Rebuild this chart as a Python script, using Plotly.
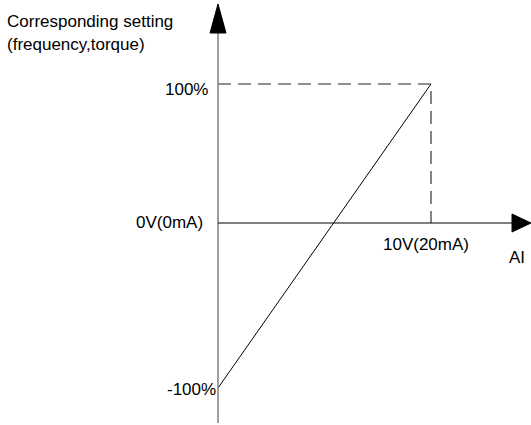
import plotly.graph_objects as go

# data: analog input (V) vs corresponding setting (%)
ai_volts = [0, 10]
setting_pct = [-100, 100]
ai_max_label = "10V(20mA)"
ai_zero_label = "0V(0mA)"
y_tick_labels = ["100%", "-100%"]

W, H = 531, 425
# pixel anchors: x=0V at 218, 10V at 431; 100% at 84, -100% at 388
x0_px = 218
px_per_v = (431 - 218) / 10.0
y0_px = (84 + 388) / 2.0
px_per_pct = (388 - 84) / 200.0
axis_px = 223  # the horizontal axis is drawn a bit above the 0% level

x_range = [-x0_px / px_per_v, (W - x0_px) / px_per_v]
y_range = [-(H - y0_px) / px_per_pct, y0_px / px_per_pct]


def px_x(p):
    return (p - x0_px) / px_per_v


def px_y(p):
    return (y0_px - p) / px_per_pct


axis_y = px_y(axis_px)

fig = go.Figure()

# dashed guides to the 100% point
fig.add_trace(go.Scatter(
    x=[ai_volts[0], ai_volts[1], ai_volts[1]],
    y=[setting_pct[1], setting_pct[1], axis_y],
    mode="lines",
    line=dict(color="#222222", width=1.1, dash="13px,7px"),
    showlegend=False, hoverinfo="skip",
))

# the characteristic line
fig.add_trace(go.Scatter(
    x=ai_volts, y=setting_pct,
    mode="lines",
    line=dict(color="black", width=1),
    showlegend=False, hoverinfo="skip",
))

# axes drawn by hand with arrowheads
shapes = [
    dict(type="line", xref="x", yref="y", x0=0, x1=0, y0=px_y(423), y1=px_y(32),
         line=dict(color="#7f7f7f", width=1.5)),
    dict(type="line", xref="x", yref="y", x0=0, x1=px_x(513), y0=axis_y, y1=axis_y,
         line=dict(color="black", width=1.2)),
    dict(type="path", xref="x", yref="y",
         path=f"M {px_x(210)} {px_y(33)} L {px_x(226)} {px_y(33)} L {px_x(218)} {px_y(4)} Z",
         fillcolor="black", line=dict(color="black", width=1)),
    dict(type="path", xref="x", yref="y",
         path=f"M {px_x(512)} {px_y(214)} L {px_x(512)} {px_y(232)} L {px_x(531)} {px_y(223)} Z",
         fillcolor="black", line=dict(color="black", width=1)),
]

font = dict(family="Liberation Sans, Arial, sans-serif", size=17, color="black")


def label(text, x, y, xanchor):
    return dict(text=text, x=x / W, y=1 - y / H, xref="paper", yref="paper",
                xanchor=xanchor, yanchor="middle", showarrow=False, font=font)


annotations = [
    label("Corresponding setting", 5, 22, "left"),
    label("(frequency,torque)", 5, 45, "left"),
    label(y_tick_labels[0], 210, 89, "right"),
    label(ai_zero_label, 205, 223, "right"),
    label(y_tick_labels[1], 218, 389, "right"),
    label(ai_max_label, 426, 245, "center"),
    label("AI", 517, 257, "center"),
]

fig.update_layout(
    width=W, height=H,
    margin=dict(l=0, r=0, t=0, b=0),
    paper_bgcolor="white", plot_bgcolor="white",
    xaxis=dict(range=x_range, visible=False, fixedrange=True),
    yaxis=dict(range=y_range, visible=False, fixedrange=True),
    shapes=shapes,
    annotations=annotations,
)

fig.write_html("out.html", config={"displayModeBar": False},
               post_script="document.body.style.margin='0';document.body.style.overflow='hidden';")
